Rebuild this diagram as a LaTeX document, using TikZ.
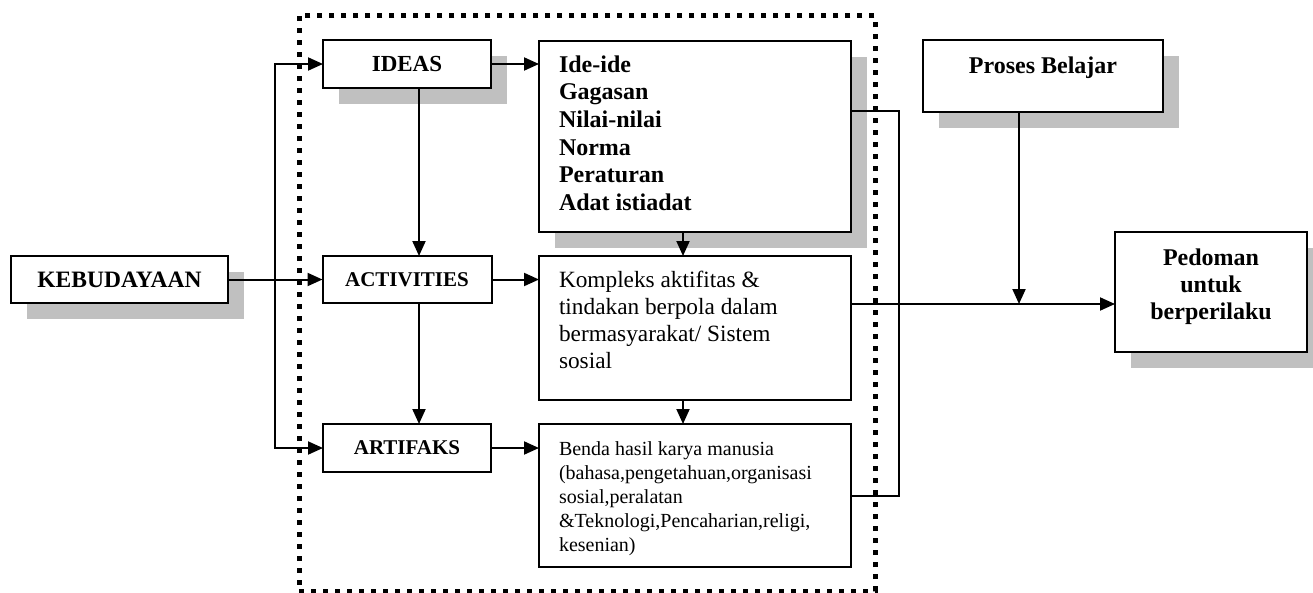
\documentclass[tikz,border=0pt]{standalone}
\usepackage{fontspec}
\setmainfont{Liberation Serif}
\usetikzlibrary{arrows.meta,shadows,calc}
\definecolor{shadowgray}{RGB}{192,192,192}
\begin{document}
\begin{tikzpicture}[x=1pt,y=-1pt,
  >={Triangle[length=15pt,width=13pt]},
  box/.style={draw,line width=2pt,fill=white,inner sep=0pt,outer sep=0pt},
  shad/.style={drop shadow={shadow xshift=16pt,shadow yshift=-16pt,fill=shadowgray,opacity=1}},
  conn/.style={line width=2pt},
  arr/.style={conn,->},
  txt/.style={inner sep=0pt,outer sep=0pt},
  framebox/.style={draw,line width=5pt,dash pattern=on 5pt off 7pt,inner sep=0pt,outer sep=0pt},
  bigbold/.style={font=\fontsize{24}{27.7}\selectfont\bfseries}
]
\useasboundingbox (0,0) rectangle (1313,592);

% dotted frame
\node[framebox,minimum width=576pt,minimum height=575.4pt] (frame) at (587,303.3) {};

% boxes
\node[box,shad,minimum width=217pt,minimum height=47pt,font=\fontsize{23.5}{27}\selectfont\bfseries] (keb) at (119.5,279.5) {KEBUDAYAAN};
\node[box,shad,minimum width=168pt,minimum height=48pt,font=\fontsize{23}{27}\selectfont\bfseries] (ideas) at (407,64) {IDEAS};
\node[box,minimum width=169pt,minimum height=47pt,font=\fontsize{21}{25}\selectfont\bfseries] (act) at (407,279.5) {ACTIVITIES};
\node[box,minimum width=168pt,minimum height=48pt,font=\fontsize{21}{25}\selectfont\bfseries] (art) at (407,448) {ARTIFAKS};
\node[box,shad,minimum width=312pt,minimum height=191pt] (ide) at (695,136.5) {};
\node[box,minimum width=312pt,minimum height=144pt] (komp) at (695,328) {};
\node[box,minimum width=312pt,minimum height=143pt] (benda) at (695,495.5) {};
\node[box,shad,minimum width=240pt,minimum height=72pt] (pb) at (1043,76) {};
\node[box,shad,minimum width=192pt,minimum height=120pt] (ped) at (1211,292) {};

% texts
\node[txt,anchor=base west,bigbold] (ideT) at ($(ide.north west)+(20,31)$)
  {\begin{tabular}[t]{@{}l@{}}Ide-ide\\Gagasan\\Nilai-nilai\\Norma\\Peraturan\\Adat istiadat\end{tabular}};
\node[txt,anchor=base west,font=\fontsize{23.3}{27}\selectfont] (kompT) at ($(komp.north west)+(20,31.7)$)
  {\begin{tabular}[t]{@{}l@{}}Kompleks aktifitas \&\\tindakan berpola dalam\\bermasyarakat/ Sistem\\sosial\end{tabular}};
\node[txt,anchor=base west,font=\fontsize{20}{24.2}\selectfont] (bendaT) at ($(benda.north west)+(20,31)$)
  {\begin{tabular}[t]{@{}l@{}}Benda hasil karya manusia\\(bahasa,pengetahuan,organisasi\\sosial,peralatan\\\&Teknologi,Pencaharian,religi,\\kesenian)\end{tabular}};
\node[txt,anchor=base,bigbold] (pbT) at ($(pb.north)+(0,33)$) {Proses Belajar};
\node[txt,anchor=base,font=\fontsize{24}{27}\selectfont\bfseries] (pedT) at ($(ped.north)+(0,33)$)
  {\begin{tabular}[t]{@{}c@{}}Pedoman\\untuk\\berperilaku\end{tabular}};

% connectors
\coordinate (busx) at (275,0);
\coordinate (cx) at (419,0);
\coordinate (cx2) at (683,0);
\coordinate (rx) at (899,0);
\coordinate (ideout) at ($(ide.north east)+(0,70)$);
\coordinate (kompout) at ($(komp.north east)+(0,48)$);
\coordinate (j) at (1019,304);

\draw[arr] (keb.east) -- (act.west);
\draw[conn,<->] (ideas.west) -- (ideas.west -| busx) |- (art.west);
\draw[arr] (ideas.south -| cx) -- (act.north -| cx);
\draw[arr] (act.south -| cx) -- (art.north -| cx);
\draw[arr] (ideas.east) -- (ideas.east -| ide.west);
\draw[arr] (act.east) -- (act.east -| komp.west);
\draw[arr] (art.east) -- (art.east -| benda.west);
\draw[arr] (ide.south -| cx2) -- (komp.north -| cx2);
\draw[arr] (komp.south -| cx2) -- (benda.north -| cx2);
\draw[conn] (ideout) -| (rx |- benda.east) -- (benda.east);
\draw[arr] (kompout) -- (kompout -| ped.west);
\draw[arr] (pb.south -| j) -- (j);
\end{tikzpicture}
\end{document}
